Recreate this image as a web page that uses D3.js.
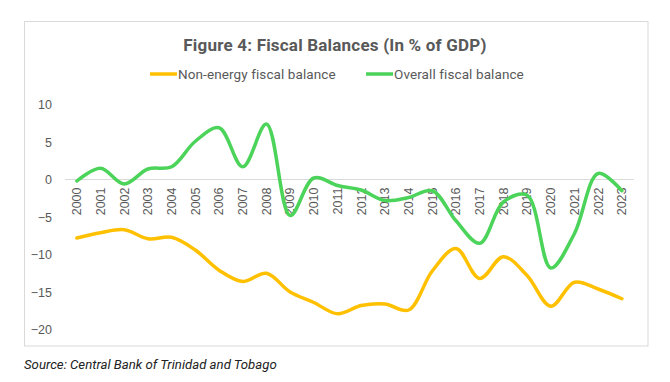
<!DOCTYPE html>
<html>
<head>
<meta charset="utf-8">
<script src="https://cdn.jsdelivr.net/npm/d3@7"></script>
<style>
  html, body { margin: 0; padding: 0; background: #fff; }
  svg { display: block; }
</style>
</head>
<body>
<svg id="chart" width="670" height="382"></svg>
<script>
const years = ["2000","2001","2002","2003","2004","2005","2006","2007","2008","2009","2010","2011",
               "2012","2013","2014","2015","2016","2017","2018","2019","2020","2021","2022","2023"];
const nonEnergy = [-7.8,-7.1,-6.7,-7.9,-7.7,-9.4,-12.1,-13.6,-12.5,-15.0,-16.4,-17.9,
                   -16.8,-16.6,-17.4,-12.2,-9.2,-13.2,-10.3,-12.8,-16.9,-13.7,-14.6,-15.9];
const overall = [-0.2,1.5,-0.6,1.4,1.7,5.1,6.9,1.7,7.4,-4.8,0.2,-0.8,
                 -1.4,-2.8,-2.4,-1.5,-5.5,-8.5,-3.0,-2.1,-11.8,-7.2,0.8,-1.5];
const yTicks = [-20,-15,-10,-5,0,5,10];
const seriesNames = ["Non-energy fiscal balance","Overall fiscal balance"];
const seriesColors = ["#FFC000","#4CD35A"];

const svg = d3.select("#chart");
const grey = "#595959";

// outer chart border
svg.append("rect").attr("x",24.5).attr("y",21.5).attr("width",623.5).attr("height",324.5)
  .attr("fill","#fff").attr("stroke","#d9d9d9").attr("stroke-width",1);

// title
svg.append("text").attr("x",335).attr("y",51).attr("text-anchor","middle")
  .attr("font-family","Roboto, 'Noto Sans', sans-serif").attr("font-weight","bold")
  .attr("font-size",17).attr("fill",grey).attr("letter-spacing","0.2")
  .text("Figure 4: Fiscal Balances (In % of GDP)");

// scales
const x = d3.scaleBand().domain(years).range([65, 633.7]).padding(0);
const y = d3.scaleLinear().domain([-20, 10]).range([329.5, 104.5]);
const cx = d => x(d) + x.bandwidth()/2;

// y axis
const yAxis = svg.append("g").attr("transform","translate(56,0)")
  .call(d3.axisLeft(y).tickValues(yTicks).tickSize(0).tickPadding(4).tickFormat(d3.format("d")));
yAxis.select(".domain").remove();
yAxis.selectAll("text").attr("font-family","'Liberation Sans', Arial, sans-serif")
  .attr("font-size",12.5).attr("fill",grey);

// zero line
svg.append("line").attr("x1",65).attr("x2",633.7).attr("y1",y(0)).attr("y2",y(0))
  .attr("stroke","#d9d9d9").attr("stroke-width",1);

// x axis labels at zero line, rotated
const xAxis = svg.append("g").attr("transform",`translate(0,${y(0)})`)
  .call(d3.axisBottom(x).tickSize(0));
xAxis.select(".domain").remove();
xAxis.selectAll("text")
  .attr("font-family","'Liberation Sans', Arial, sans-serif").attr("font-size",12.5).attr("fill",grey)
  .attr("transform","rotate(-90)").attr("text-anchor","end")
  .attr("x",-8).attr("y",0).attr("dy","0.35em");

// lines
const line = d3.line().x((d,i) => cx(years[i])).y(d => y(d)).curve(d3.curveCatmullRom.alpha(0.5));
[nonEnergy, overall].forEach((s, k) => {
  svg.append("path").datum(s).attr("d", line).attr("fill","none")
    .attr("stroke", seriesColors[k]).attr("stroke-width",3.5)
    .attr("stroke-linecap","round").attr("stroke-linejoin","round");
});

// legend
const legendItems = [{x1:150, x2:177, tx:178}, {x1:366, x2:393, tx:394}];
legendItems.forEach((p, k) => {
  svg.append("line").attr("x1",p.x1).attr("x2",p.x2).attr("y1",74).attr("y2",74)
    .attr("stroke",seriesColors[k]).attr("stroke-width",3.5);
  svg.append("text").attr("x",p.tx).attr("y",78.5)
    .attr("font-family","Roboto, 'Noto Sans', sans-serif").attr("font-size",13.5)
    .attr("fill",grey).attr("letter-spacing","0.1").text(seriesNames[k]);
});

// source
svg.append("text").attr("x",24).attr("y",369)
  .attr("font-family","Roboto, 'Noto Sans', sans-serif").attr("font-style","italic")
  .attr("font-size",13.2).attr("fill","#222").text("Source: Central Bank of Trinidad and Tobago");
</script>
</body>
</html>
